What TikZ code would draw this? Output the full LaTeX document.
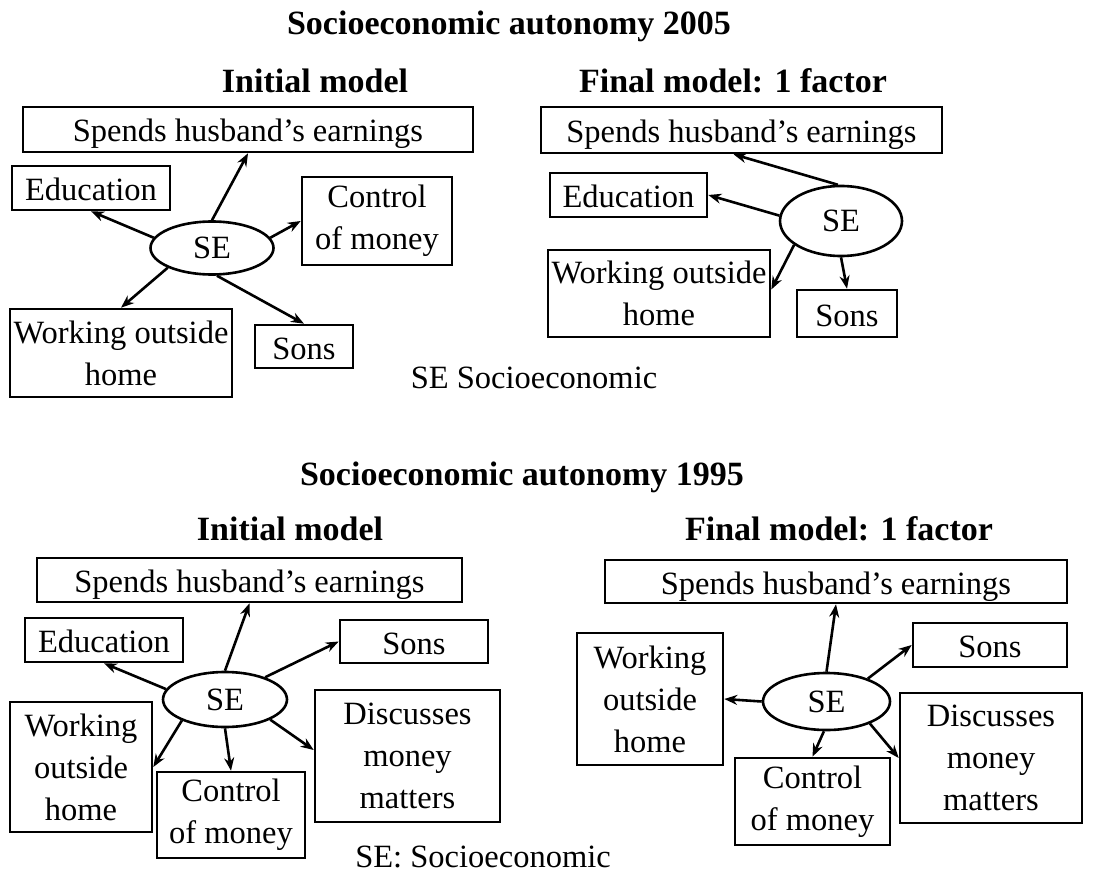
\documentclass[tikz,border=0pt]{standalone}
\usepackage{fontspec}
\setmainfont{Liberation Serif}
\usetikzlibrary{arrows.meta,shapes.geometric}
\begin{document}
\begin{tikzpicture}[x=1pt,y=-1pt,
  box/.style={draw,line width=2.6pt,inner sep=0pt,align=center,font=\fontsize{32.5}{42}\selectfont},
  oneline/.style={text height=27pt,text depth=2pt},
  factor/.style={draw,ellipse,line width=2.6pt,inner sep=0pt,font=\fontsize{32.5}{36}\selectfont},
  heading/.style={font=\bfseries\fontsize{34}{36}\selectfont,anchor=base,inner sep=0pt},
  note/.style={font=\fontsize{32.5}{36}\selectfont,anchor=base,inner sep=0pt},
  load/.style={-{Stealth[length=13pt,width=10pt]},line width=2.6pt}]
\useasboundingbox (0,0) rectangle (1107,877);

% ---------- 2005 ----------
\node[heading] (t2005) at (509,35) {Socioeconomic autonomy 2005};
\node[heading] (i2005) at (315,93) {Initial model};
\node[heading] (f2005) at (733,93) {Final model: 1 factor};

% initial model
\node[box,oneline,minimum width=450pt,minimum height=45pt] (spend1) at (248,129.5) {Spends husband's earnings};
\node[box,oneline,minimum width=158pt,minimum height=44pt] (edu1) at (91,188) {Education};
\node[factor,minimum width=123pt,minimum height=53pt] (se1) at (212,248) {SE};
\node[box,minimum width=150pt,minimum height=88pt] (ctrl1) at (377,221) {Control\\of money};
\node[box,minimum width=222pt,minimum height=88pt] (work1) at (121,353) {Working outside\\home};
\node[box,oneline,minimum width=98pt,minimum height=43pt] (sons1) at (304,346.5) {Sons};
\node[note] (leg1) at (534,388) {SE Socioeconomic};

\draw[load] (se1.north) -- (spend1.south);
\draw[load] (se1.170) -- (edu1.south);
\draw[load] (se1.10) -- (ctrl1.west);
\draw[load] (se1.204) -- (work1.north);
\draw[load] (se1.-80) -- (sons1.north);

% final model
\node[box,oneline,minimum width=401pt,minimum height=46pt] (spend2) at (741.5,130) {Spends husband's earnings};
\node[box,oneline,minimum width=157pt,minimum height=44pt] (edu2) at (628.5,195) {Education};
\node[factor,minimum width=122pt,minimum height=70pt] (se2) at (841,221) {SE};
\node[box,minimum width=222pt,minimum height=87pt] (work2) at (659,293.5) {Working outside\\home};
\node[box,oneline,minimum width=100pt,minimum height=47pt] (sons2) at (847,313.5) {Sons};

\draw[load] (se2.95) -- ([xshift=-8pt]spend2.south);
\draw[load] (se2.175) -- (edu2.east);
\draw[load] (se2.207) -- ([yshift=4pt]work2.east);
\draw[load] (se2.south) -- (sons2.north);

% ---------- 1995 ----------
\node[heading] (t1995) at (522,485) {Socioeconomic autonomy 1995};
\node[heading] (i1995) at (290,540) {Initial model};
\node[heading] (f1995) at (839,540) {Final model: 1 factor};

% initial model
\node[box,oneline,minimum width=425pt,minimum height=44pt] (spend3) at (249.5,580) {Spends husband's earnings};
\node[box,oneline,minimum width=158pt,minimum height=44pt] (edu3) at (104,640) {Education};
\node[box,oneline,minimum width=148pt,minimum height=43pt] (sons3) at (414,641.5) {Sons};
\node[factor,minimum width=124pt,minimum height=55pt] (se3) at (225,699.5) {SE};
\node[box,minimum width=142pt,minimum height=130pt] (work3) at (81,767) {Working\\outside\\home};
\node[box,minimum width=148pt,minimum height=86pt] (ctrl3) at (231,815) {Control\\of money};
\node[box,minimum width=185pt,minimum height=132pt] (disc3) at (407.5,756) {Discusses\\money\\matters};
\node[note] (leg2) at (483,867) {SE: Socioeconomic};

\draw[load] (se3.north) -- (spend3.south);
\draw[load] (se3.170) -- (edu3.south);
\draw[load] (se3.29) -- (sons3.west);
\draw[load] (se3.206) -- (work3.east);
\draw[load] (se3.south) -- (ctrl3.north);
\draw[load] (se3.-24) -- ([yshift=6pt]disc3.west);

% final model
\node[box,oneline,minimum width=462pt,minimum height=43pt] (spend4) at (836,581.5) {Spends husband's earnings};
\node[box,oneline,minimum width=154pt,minimum height=44pt] (sons4) at (990,645) {Sons};
\node[box,minimum width=146pt,minimum height=132pt] (work4) at (650,699) {Working\\outside\\home};
\node[factor,minimum width=127pt,minimum height=57pt] (se4) at (826.5,701.5) {SE};
\node[box,minimum width=155pt,minimum height=87pt] (ctrl4) at (812.5,801.5) {Control\\of money};
\node[box,minimum width=182pt,minimum height=130pt] (disc4) at (991,758) {Discusses\\money\\matters};

\draw[load] (se4.north) -- (spend4.south);
\draw[load] (se4.29) -- (sons4.west);
\draw[load] (se4.west) -- (work4.east);
\draw[load] (se4.-95) -- (ctrl4.north);
\draw[load] (se4.-27) -- (disc4.west);
\end{tikzpicture}
\end{document}
